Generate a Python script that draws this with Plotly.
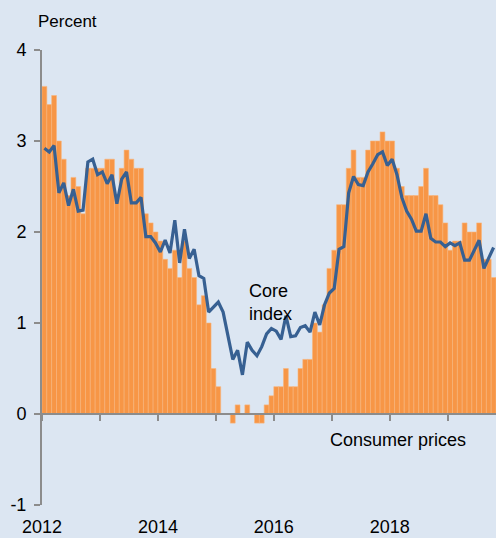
import plotly.graph_objects as go

# Monthly data, Jan 2012 - Oct 2019
years = [2012, 2013, 2014, 2015, 2016, 2017, 2018, 2019]
consumer_prices = [
    3.6, 3.4, 3.5, 3.0, 2.8, 2.4, 2.6, 2.5, 2.2, 2.7, 2.7, 2.7,
    2.7, 2.8, 2.8, 2.4, 2.7, 2.9, 2.8, 2.7, 2.7, 2.2, 2.1, 2.0,
    1.9, 1.7, 1.6, 1.8, 1.5, 1.9, 1.6, 1.5, 1.2, 1.3, 1.0, 0.5,
    0.3, 0.0, 0.0, -0.1, 0.1, 0.0, 0.1, 0.0, -0.1, -0.1, 0.1, 0.2,
    0.3, 0.3, 0.5, 0.3, 0.3, 0.5, 0.6, 0.6, 1.0, 0.9, 1.2, 1.6,
    1.8, 2.3, 2.3, 2.7, 2.9, 2.6, 2.6, 2.9, 3.0, 3.0, 3.1, 3.0,
    3.0, 2.7, 2.5, 2.4, 2.4, 2.4, 2.5, 2.7, 2.4, 2.4, 2.3, 2.1,
    1.8, 1.9, 1.9, 2.1, 2.0, 2.0, 2.1, 1.7, 1.7, 1.5,
]
core_index = [
    2.92, 2.88, 2.95, 2.43, 2.54, 2.29, 2.47, 2.23, 2.24, 2.77, 2.80, 2.63,
    2.66, 2.53, 2.63, 2.31, 2.58, 2.66, 2.32, 2.32, 2.38, 1.95, 1.95, 1.88,
    1.78, 1.91, 1.77, 2.13, 1.66, 2.03, 1.71, 1.81, 1.52, 1.49, 1.12, 1.18,
    1.23, 1.12, 0.88, 0.60, 0.70, 0.43, 0.79, 0.70, 0.64, 0.74, 0.88, 0.94,
    0.91, 0.82, 1.08, 0.85, 0.86, 0.95, 0.97, 0.90, 1.12, 0.98, 1.20, 1.33,
    1.38, 1.81, 1.84, 2.43, 2.61, 2.52, 2.51, 2.66, 2.75, 2.85, 2.88, 2.73,
    2.80, 2.63, 2.38, 2.23, 2.14, 2.01, 2.01, 2.20, 1.93, 1.89, 1.89, 1.84,
    1.88, 1.85, 1.88, 1.69, 1.69, 1.80, 1.91, 1.60, 1.72, 1.83,
]
y_ticks = [-1, 0, 1, 2, 3, 4]
y_tick_labels = ["-1", "0", "1", "2", "3", "4"]
x_label_years = [2012, 2014, 2016, 2018]

n = len(consumer_prices)
months = [i + 0.5 for i in range(n)]
year_starts = [(y - years[0]) * 12 for y in years]
label_pos = [(y - years[0]) * 12 for y in x_label_years]

FONT = "Liberation Sans, Arial, sans-serif"
BG = "#DCE6F2"
AXIS = "#8C8C8C"

fig = go.Figure()
fig.add_trace(go.Bar(
    x=months, y=consumer_prices, width=1.0,
    marker=dict(color="#F79646", line=dict(color="#F9B57C", width=0.6)),
    showlegend=False, hoverinfo="skip",
))
fig.add_trace(go.Scatter(
    x=months, y=core_index, mode="lines",
    line=dict(color="#376092", width=3.2),
    showlegend=False, hoverinfo="skip",
))
# helper trace so the zero-line axis is drawn
fig.add_trace(go.Scatter(x=[], y=[], xaxis="x2", yaxis="y",
                         showlegend=False, hoverinfo="skip"))

fig.update_layout(
    width=496, height=538,
    margin=dict(l=42, r=0, t=50, b=33, autoexpand=False),
    paper_bgcolor=BG, plot_bgcolor=BG,
    font=dict(family=FONT, size=18, color="black"),
    bargap=0,
    xaxis=dict(
        range=[0, n], showgrid=False, zeroline=False, showline=False,
        ticks="", tickmode="array", tickvals=label_pos,
        ticktext=[str(y) for y in x_label_years], automargin=False,
        tickfont=dict(size=18), ticklabelstandoff=9,
    ),
    xaxis2=dict(
        range=[0, n], overlaying="x", anchor="free", position=0.2,
        showgrid=False, zeroline=False, showline=True, linecolor=AXIS,
        linewidth=2, ticks="outside", ticklen=6, tickwidth=2, tickcolor=AXIS,
        tickmode="array", tickvals=year_starts, showticklabels=False,
        automargin=False,
    ),
    yaxis=dict(
        range=[-1, 4], showgrid=False, zeroline=False, showline=True,
        linecolor=AXIS, linewidth=2, ticks="outside", ticklen=6, tickwidth=2,
        tickcolor=AXIS, tickmode="array", tickvals=y_ticks,
        ticktext=y_tick_labels, automargin=False,
        tickfont=dict(size=18), ticklabelstandoff=4,
    ),
    annotations=[
        dict(text="Percent", xref="paper", yref="paper", x=-0.013, y=1.062,
             xanchor="left", yanchor="middle", showarrow=False,
             font=dict(size=17)),
        dict(text="Core<br>index", xref="x", yref="y", x=42.5, y=1.225,
             xanchor="left", yanchor="middle", align="left", showarrow=False),
        dict(text="Consumer prices", xref="x", yref="y", x=59.2, y=-0.29,
             xanchor="left", yanchor="middle", showarrow=False),
    ],
)

page_css = (
    "document.body.style.margin='0px';"
    "document.body.style.padding='0px';"
    "document.body.style.overflow='hidden';"
    "document.body.style.background='" + BG + "';"
)
fig.write_html("out.html", post_script=page_css,
               config={"displayModeBar": False, "staticPlot": True})
